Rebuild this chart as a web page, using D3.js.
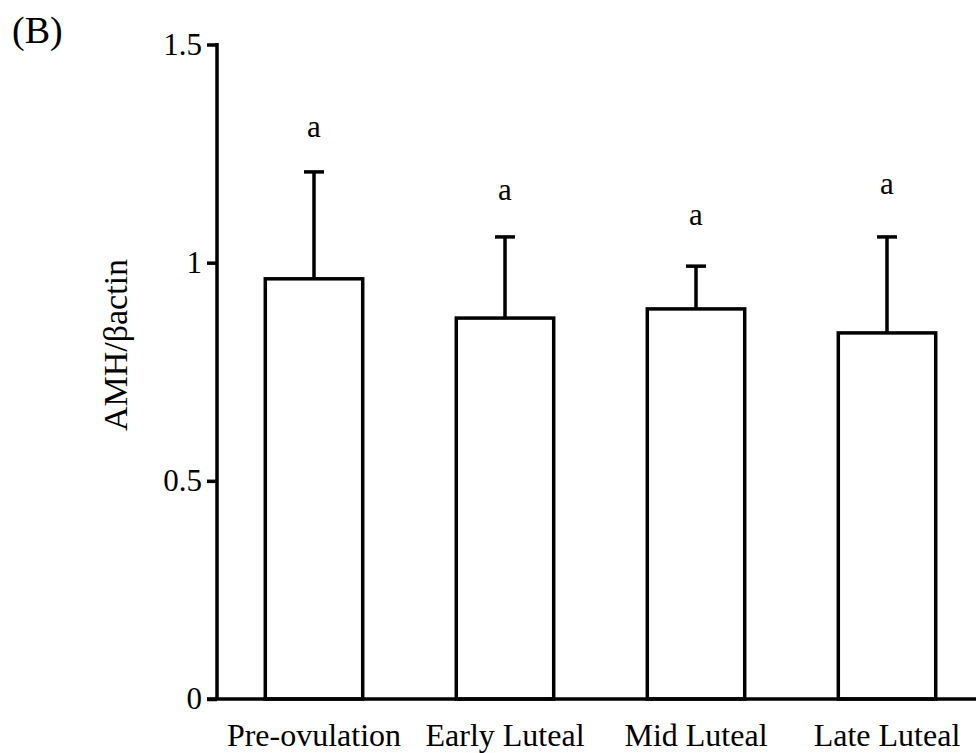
<html>
<script src='https://d3js.org/d3.v7.min.js'></script>
<body style="margin:0; background:#fff;">
<svg width=976 height=753></svg>
<script>

var categories = ["Pre-ovulation", "Early Luteal", "Mid Luteal", "Late Luteal"];
var means = [0.963, 0.873, 0.894, 0.839];
var errTops = [1.208, 1.059, 0.992, 1.059];
var letters = ["a", "a", "a", "a"];
var letterY = [1.287, 1.144, 1.087, 1.158];
var yTicks = [0, 0.5, 1, 1.5];

var svg = d3.select('svg');
var font = "'Liberation Serif', 'Times New Roman', serif";

var y = d3.scaleLinear().domain([0, 1.5]).range([699, 44.5]);
var x = d3.scaleBand().domain(categories).range([218.5, 982.5]).paddingInner(0.49).paddingOuter(0.245);

var axisX = 217;

// bars
svg.append("g").selectAll("rect")
  .data(categories)
  .join("rect")
    .attr("x", d => x(d))
    .attr("y", (d, i) => y(means[i]))
    .attr("width", x.bandwidth())
    .attr("height", (d, i) => y(0) - y(means[i]))
    .attr("fill", "white")
    .attr("stroke", "black")
    .attr("stroke-width", 3.5);

// error bars (upper only)
var eb = svg.append("g").attr("stroke", "black").attr("stroke-width", 3.5);
categories.forEach(function(c, i) {
  var cx = x(c) + x.bandwidth() / 2;
  eb.append("line").attr("x1", cx).attr("x2", cx).attr("y1", y(means[i])).attr("y2", y(errTops[i]));
  eb.append("line").attr("x1", cx - 10).attr("x2", cx + 10).attr("y1", y(errTops[i])).attr("y2", y(errTops[i]));
});

// significance letters
svg.append("g").selectAll("text")
  .data(categories)
  .join("text")
    .attr("x", d => x(d) + x.bandwidth() / 2)
    .attr("y", (d, i) => y(letterY[i]))
    .attr("text-anchor", "middle")
    .style("font-family", font)
    .style("font-size", "31px")
    .text((d, i) => letters[i]);

// y axis
var gy = svg.append("g").attr("transform", "translate(" + axisX + ",0)")
  .call(d3.axisLeft(y).tickValues(yTicks).tickSize(10).tickPadding(5).tickFormat(d => d));
gy.select(".domain").attr("stroke-width", 3.5).attr("d", "M0," + (y(1.5) - 1.5) + "V" + y(0));
gy.selectAll(".tick line").attr("stroke-width", 3.5);
gy.selectAll(".tick text").style("font-family", font).style("font-size", "31px").attr("fill", "black");

// x axis
var gx = svg.append("g").attr("transform", "translate(0," + y(0) + ")")
  .call(d3.axisBottom(x).tickSize(0).tickPadding(24));
gx.select(".domain").remove();
gx.selectAll(".tick text").style("font-family", font).style("font-size", "32px").attr("fill", "black");
svg.append("line").attr("x1", axisX - 10).attr("x2", 976).attr("y1", y(0)).attr("y2", y(0))
  .attr("stroke", "black").attr("stroke-width", 3.5);

// y label
svg.append("text")
  .attr("transform", "translate(127,345) rotate(-90)")
  .attr("text-anchor", "middle")
  .style("font-family", font)
  .style("font-size", "34px")
  .text("AMH/βactin");

// panel letter
svg.append("text")
  .attr("x", 12).attr("y", 43)
  .style("font-family", font)
  .style("font-size", "38px")
  .text("(B)");

</script>
</body>
</html>
